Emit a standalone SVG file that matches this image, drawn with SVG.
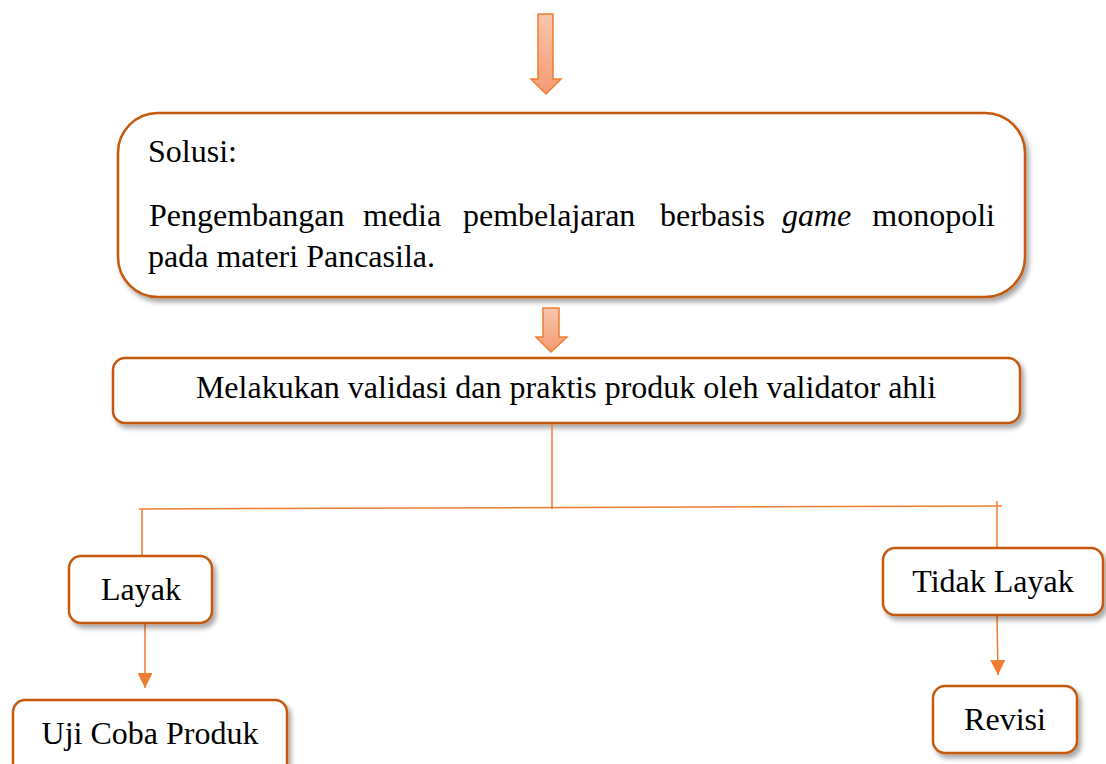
<svg xmlns="http://www.w3.org/2000/svg" width="1106" height="764" viewBox="0 0 1106 764">
<style>
.box{fill:#fff;stroke:#C55A11;stroke-width:2.5;filter:url(#sh)}
.t{font-family:"Liberation Serif","Times New Roman",serif;font-size:32px;fill:#000}
.c{text-anchor:middle}
.ln{stroke:#ED7D31;stroke-width:1.5;fill:none}
.blk{fill:url(#g);stroke:#ED7D31;stroke-width:1.5}
</style>
<defs>
<filter id="sh" x="-10%" y="-10%" width="130%" height="140%">
<feDropShadow dx="3" dy="4" stdDeviation="2.5" flood-color="#000" flood-opacity="0.35"/>
</filter>
<linearGradient id="g" x1="0" y1="0" x2="0" y2="1">
<stop offset="0" stop-color="#F8C6AC"/>
<stop offset="1" stop-color="#F49A70"/>
</linearGradient>
<marker id="ah" viewBox="0 0 10 10" refX="10" refY="5" markerWidth="15" markerHeight="15" markerUnits="userSpaceOnUse" orient="auto">
<path d="M0,0 L10,5 L0,10 z" fill="#ED7D31"/>
</marker>
</defs>
<g id="arrow-top">
<path class="blk" d="M538,14 H553 V79 H561 L546,94 L531,79 H538 Z"/>
</g>
<g id="solusi">
<rect class="box" x="118" y="113" width="907" height="184" rx="40" ry="40"/>
<text class="t" x="148" y="162">Solusi:</text>
<text class="t" x="149" y="226">Pengembangan</text>
<text class="t" x="363" y="226">media</text>
<text class="t" x="463" y="226">pembelajaran</text>
<text class="t" x="660" y="226">berbasis</text>
<text class="t" x="782" y="226" font-style="italic">game</text>
<text class="t" x="995" y="226" text-anchor="end">monopoli</text>
<text class="t" x="148" y="267">pada materi Pancasila.</text>
</g>
<g id="arrow-mid">
<path class="blk" d="M543,308 H559 V337 H567 L551,352 L536,337 H543 Z"/>
</g>
<g id="validasi">
<rect class="box" x="113" y="358" width="907" height="65" rx="12" ry="12"/>
<text class="t c" x="566" y="398">Melakukan validasi dan praktis produk oleh validator ahli</text>
</g>
<g id="connectors">
<line class="ln" x1="552" y1="424" x2="552" y2="509"/>
<line class="ln" x1="139" y1="509" x2="1002" y2="506"/>
<line class="ln" x1="142" y1="509" x2="142" y2="556"/>
<line class="ln" x1="997" y1="501" x2="997" y2="548"/>
<line class="ln" x1="145" y1="624" x2="145" y2="688" marker-end="url(#ah)"/>
<line class="ln" x1="997" y1="616" x2="998" y2="675" marker-end="url(#ah)"/>
</g>
<g id="layak">
<rect class="box" x="69" y="556" width="143" height="67" rx="12" ry="12"/>
<text class="t c" x="141" y="600">Layak</text>
</g>
<g id="tidak-layak">
<rect class="box" x="883" y="548" width="220" height="67" rx="12" ry="12"/>
<text class="t c" x="993" y="592">Tidak Layak</text>
</g>
<g id="uji-coba">
<rect class="box" x="13" y="700" width="274" height="80" rx="12" ry="12"/>
<text class="t c" x="150" y="744">Uji Coba Produk</text>
</g>
<g id="revisi">
<rect class="box" x="933" y="686" width="144" height="67" rx="12" ry="12"/>
<text class="t c" x="1005" y="730">Revisi</text>
</g>
</svg>
